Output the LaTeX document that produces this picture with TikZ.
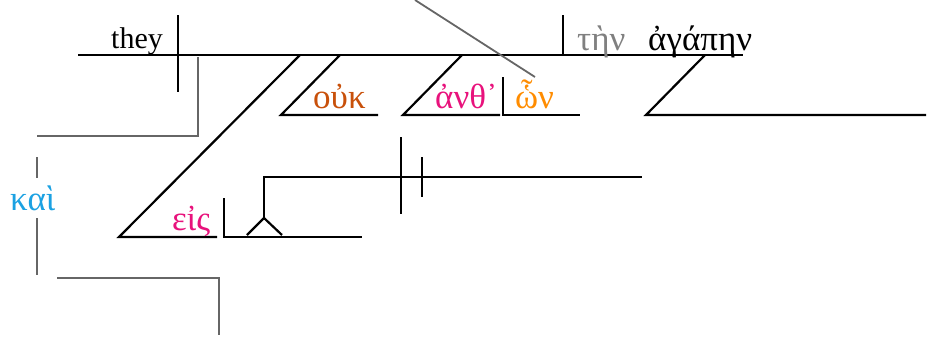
\documentclass[tikz,border=0pt]{standalone}
\usepackage{fontspec}
\setmainfont{Liberation Serif}
\usetikzlibrary{calc}
\definecolor{rust}{HTML}{C8500A}
\definecolor{hotpink}{HTML}{E8127C}
\definecolor{amber}{HTML}{FF8C00}
\definecolor{sky}{HTML}{1BA1E2}
\definecolor{conj}{HTML}{666666}
\tikzset{word/.style={anchor=base west,inner sep=0pt,font=\fontsize{30}{33}\selectfont},
  greek/.style={word,font=\fontsize{35}{38}\selectfont}}
\begin{document}
\begin{tikzpicture}[x=1pt,y=-1pt]
\useasboundingbox (0,0) rectangle (932,338);
% main clause
\coordinate[] (M1) at (78,55);
\coordinate[] (M2) at (743,55);
\coordinate[] (SVt) at (178,15);
\coordinate[] (SVb) at (178,92);
\coordinate[] (DO1) at (563,15);
\coordinate[] (DO2) at (563,55);
\draw [line width=2.2pt] (M1) -- (M2);
\draw [line width=2.2pt] (SVt) -- (SVb);
\draw [line width=2.2pt] (DO1) -- (DO2);
\node[word] (they) at (111,48) {they};
\node[greek,color=gray] (ten) at (577,50) {τὴν};
\node[greek] (agapen) at (648,50) {ἀγάπην};
% modifiers of the verb
\coordinate[] (A1) at (340,55);
\coordinate[] (A2) at (281,115);
\coordinate[] (A3) at (378,115);
\draw [line width=2.2pt] (A1) -- (A2) -- (A3);
\node[greek,color=rust] (ouk) at (313,108) {οὐκ};
\coordinate[] (B1) at (462,55);
\coordinate[] (B2) at (403,115);
\coordinate[] (B3) at (500,115);
\draw [line width=2.2pt] (B1) -- (B2) -- (B3);
\node[greek,color=hotpink] (anth) at (435,108) {ἀνθ᾽};
\coordinate[] (R1) at (503,77);
\coordinate[] (R2) at (503,115);
\coordinate[] (R3) at (580,115);
\draw [line width=2.2pt] (R1) -- (R2) -- (R3);
\node[greek,color=amber] (hon) at (515,108) {ὧν};
\coordinate[] (Q1) at (415,0);
\coordinate[] (Q2) at (535,77);
\draw [line width=1.8pt,color=conj] (Q1) -- (Q2);
% modifier of the object
\coordinate[] (C1) at (705,55);
\coordinate[] (C2) at (646,115);
\coordinate[] (C3) at (926,115);
\draw [line width=2.2pt] (C1) -- (C2) -- (C3);
% prepositional phrase
\coordinate[] (P1) at (300,55);
\coordinate[] (P2) at (119,237);
\coordinate[] (P3) at (217,237);
\draw [line width=2.2pt] (P1) -- (P2) -- (P3);
\node[greek,color=hotpink] (eis) at (172,230) {εἰς};
\coordinate[] (O1) at (224,198);
\coordinate[] (O2) at (224,237);
\coordinate[] (O3) at (362,237);
\draw [line width=2.2pt] (O1) -- (O2) -- (O3);
% clause on a stand
\coordinate[] (T1) at (247,235);
\coordinate[] (T2) at (264,218);
\coordinate[] (T3) at (282,235);
\coordinate[] (T4) at (264,177);
\coordinate[] (T5) at (642,177);
\draw [line width=2.2pt] (T1) -- (T2) -- (T3);
\draw [line width=2.2pt] (T2) -- (T4) -- (T5);
\coordinate[] (V1) at (401,137);
\coordinate[] (V2) at (401,214);
\coordinate[] (V3) at (422,157);
\coordinate[] (V4) at (422,197);
\draw [line width=2.2pt] (V1) -- (V2);
\draw [line width=2.2pt] (V3) -- (V4);
% conjunction
\coordinate[] (K1) at (198,57);
\coordinate[] (K2) at (198,136);
\coordinate[] (K3) at (37,136);
\coordinate[] (K4) at (37,157);
\coordinate[] (K5) at (37,178);
\coordinate[] (K6) at (37,218);
\coordinate[] (K7) at (37,275);
\coordinate[] (K8) at (57,278);
\coordinate[] (K9) at (219,278);
\coordinate[] (K10) at (219,335);
\draw [line width=1.8pt,color=conj] (K1) -- (K2) -- (K3);
\draw [line width=1.8pt,color=conj] (K4) -- (K5);
\draw [line width=1.8pt,color=conj] (K6) -- (K7);
\draw [line width=1.8pt,color=conj] (K8) -- (K9) -- (K10);
\node[greek,color=sky] (kai) at (10,210) {καὶ};
\end{tikzpicture}
\end{document}
